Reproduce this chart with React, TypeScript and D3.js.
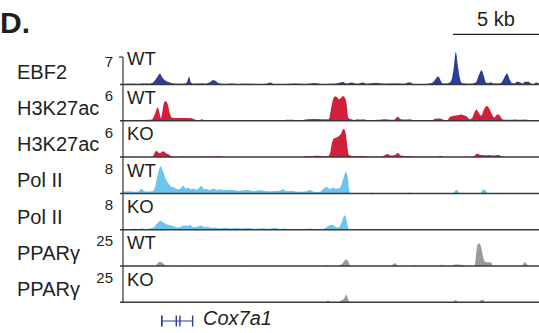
import * as d3 from 'd3';

type Pt = [number, number];

// genomic window (kb) and scale bar
const regionKb = 24.2;
const scaleBarKb = 5;
const scaleBarLabel = '5 kb';
const panelLabel = 'D.';

const trackLabels = ['EBF2', 'H3K27ac', 'H3K27ac', 'Pol II', 'Pol II', 'PPARγ', 'PPARγ'];
const conditions = ['WT', 'WT', 'KO', 'WT', 'KO', 'WT', 'KO'];
const yMax = [7, 6, 6, 8, 8, 25, 25];
const trackColors = ['#2c3d96', '#d21f3c', '#d21f3c', '#6cc5ee', '#6cc5ee', '#9a9a9a', '#9a9a9a'];

// signal tracks: [position kb, signal]
const ebf2Wt: Pt[] = [
  [0, 0.1], [0.5, 0.15], [0.8, 0.1], [1.2, 0.2], [1.5, 0.15], [1.69, 0.3], [1.86, 0.9], [2.03, 1.8],
  [2.15, 2.35], [2.27, 1.6], [2.44, 0.9], [2.73, 0.45], [3.0, 0.2], [3.3, 0.15], [3.6, 0.2], [3.72, 0.5],
  [3.84, 1.65], [3.95, 0.4], [4.1, 0.15], [4.5, 0.2], [4.8, 0.15], [4.94, 0.3], [5.1, 0.6], [5.23, 0.95],
  [5.45, 0.6], [5.58, 0.25], [5.9, 0.1], [6.3, 0.2], [6.7, 0.1], [7.2, 0.15], [7.8, 0.1], [8.3, 0.15],
  [8.55, 0.45], [8.8, 0.1], [9.4, 0.1], [10.0, 0.2], [10.6, 0.1], [11.16, 0.3], [11.5, 0.1], [12.0, 0.15],
  [12.4, 0.2], [12.79, 0.55], [13.0, 0.2], [13.3, 0.45], [13.6, 0.15], [13.95, 0.45], [14.2, 0.15],
  [14.7, 0.3], [15.2, 0.15], [15.8, 0.2], [16.3, 0.15], [16.69, 0.5], [16.9, 0.1], [17.5, 0.1],
  [17.97, 0.3], [18.15, 1.0], [18.33, 1.7], [18.6, 0.2], [18.84, 0.2], [19.01, 0.4], [19.13, 1.2],
  [19.24, 3.5], [19.36, 6.9], [19.48, 4.0], [19.59, 1.5], [19.71, 0.3], [19.88, 0.2], [20.17, 0.15],
  [20.52, 0.4], [20.7, 2.0], [20.86, 3.0], [20.99, 1.8], [21.1, 0.5], [21.22, 0.3], [21.43, 0.45],
  [21.57, 0.2], [21.86, 0.2], [22.04, 0.5], [22.21, 1.7], [22.34, 2.35], [22.5, 1.0], [22.62, 0.3],
  [22.79, 0.2], [22.9, 0.6], [23.08, 0.5], [23.26, 0.2], [23.37, 0.6], [23.6, 0.6], [23.72, 0.2],
  [23.89, 0.1], [24.04, 0.45], [24.19, 0.2],
];

const h3k27acWt: Pt[] = [
  [0, 0.05], [0.5, 0.1], [1.0, 0.15], [1.5, 0.2], [1.7, 0.25], [1.75, 0.5], [1.9, 1.6], [2.0, 2.4],
  [2.12, 1.5], [2.2, 0.5], [2.3, 1.8], [2.4, 3.4], [2.5, 3.55], [2.62, 2.8], [2.73, 1.3], [2.85, 0.6],
  [3.0, 0.5], [3.5, 0.5], [4.0, 0.45], [4.2, 0.2], [4.4, 0.15], [4.6, 0.3], [4.7, 0.15], [5.0, 0.1],
  [6.0, 0.1], [7.0, 0.05], [8.0, 0.1], [9.0, 0.05], [9.5, 0.2], [9.9, 0.2], [10.2, 0.05], [10.75, 0.3],
  [11.3, 0.35], [11.75, 0.3], [11.98, 0.3], [12.09, 2.0], [12.21, 3.8], [12.33, 4.4], [12.44, 4.35],
  [12.56, 3.9], [12.67, 4.1], [12.79, 4.5], [12.91, 4.2], [13.03, 2.5], [13.1, 0.6], [13.2, 0.35],
  [13.31, 0.3], [13.43, 0.15], [13.6, 0.3], [13.78, 0.25], [14.01, 0.3], [14.19, 0.1], [14.48, 0.1],
  [14.77, 0.2], [15.06, 0.25], [15.29, 0.3], [15.52, 0.2], [15.76, 0.2], [15.99, 0.73], [16.16, 0.3],
  [16.4, 0.25], [16.69, 0.3], [16.92, 0.1], [17.09, 0], [18.02, 0], [18.08, 0.3], [18.31, 0.4],
  [18.55, 0.35], [18.72, 0.1], [18.9, 0.2], [19.01, 0.7], [19.24, 0.9], [19.48, 1.0], [19.65, 1.16],
  [19.82, 1.0], [20.0, 0.8], [20.17, 0.3], [20.29, 0.4], [20.44, 1.5], [20.57, 2.07], [20.7, 1.4],
  [20.85, 0.9], [20.99, 2.0], [21.18, 2.67], [21.34, 2.0], [21.45, 1.3], [21.6, 0.6], [21.69, 0.9],
  [21.82, 1.2], [21.95, 0.8], [22.09, 0.25], [22.5, 0.2], [22.79, 0.25], [23.08, 0.2], [23.37, 0.25],
  [23.66, 0.1], [23.84, 0], [24.19, 0],
];

const h3k27acKo: Pt[] = [
  [0, 0], [1.7, 0], [1.75, 0.2], [1.86, 0.9], [1.95, 1.15], [2.06, 0.8], [2.15, 0.7], [2.3, 1.0],
  [2.38, 1.0], [2.5, 0.7], [2.73, 0.35], [2.9, 0.1], [3.3, 0.05], [3.43, 0.2], [3.55, 0.05], [4.5, 0.05],
  [4.65, 0.2], [4.8, 0.05], [5.7, 0.15], [5.9, 0], [10.5, 0], [10.6, 0.2], [10.9, 0.15], [11.2, 0.25],
  [11.5, 0.2], [11.9, 0.15], [12.03, 0.5], [12.15, 2.5], [12.27, 3.4], [12.4, 3.5], [12.5, 3.7],
  [12.62, 4.0], [12.7, 4.4], [12.82, 5.1], [12.9, 4.9], [12.97, 4.0], [13.05, 2.0], [13.12, 0.5],
  [13.2, 0.3], [13.5, 0.2], [13.8, 0.2], [14.1, 0.15], [14.2, 0.05], [15.0, 0.05], [15.2, 0.3],
  [15.4, 0.55], [15.55, 0.3], [15.8, 0.35], [15.99, 0.73], [16.15, 0.3], [16.4, 0.2], [16.7, 0.15],
  [16.9, 0.05], [18.3, 0.05], [18.4, 0.2], [18.55, 0.15], [18.65, 0], [19.15, 0], [19.2, 0.15],
  [19.3, 0], [20.4, 0.1], [20.5, 0.45], [20.62, 0.6], [20.75, 0.45], [20.9, 0.4], [21.1, 0.35],
  [21.3, 0.4], [21.5, 0.3], [21.7, 0.35], [21.85, 0.4], [22.05, 0.1], [22.1, 0], [24.19, 0],
];

const polIIWt: Pt[] = [
  [0, 0.4], [0.3, 0.5], [0.6, 0.4], [0.9, 0.45], [1.08, 1.1], [1.25, 0.5], [1.5, 0.45], [1.75, 0.6],
  [1.86, 1.5], [1.96, 3.4], [2.1, 5.8], [2.2, 6.6], [2.33, 5.3], [2.5, 3.4], [2.62, 2.6], [2.82, 1.6],
  [3.02, 1.4], [3.2, 1.0], [3.35, 1.2], [3.49, 1.9], [3.65, 1.2], [3.78, 1.4], [3.95, 1.0], [4.07, 1.2],
  [4.3, 0.9], [4.55, 1.8], [4.75, 1.0], [4.86, 1.15], [5.05, 0.8], [5.25, 1.1], [5.5, 0.8], [5.64, 1.0],
  [6.0, 0.8], [6.4, 0.85], [6.8, 0.65], [7.2, 0.8], [7.6, 0.6], [7.97, 0.75], [8.4, 0.55], [8.84, 0.6],
  [9.1, 0.65], [9.3, 1.0], [9.5, 0.55], [9.9, 0.6], [10.2, 0.4], [10.6, 0.45], [10.87, 0.8], [11.1, 0.4],
  [11.4, 0.35], [11.74, 1.4], [11.85, 1.6], [12.03, 1.0], [12.21, 1.45], [12.4, 1.1], [12.62, 1.3],
  [12.67, 1.6], [12.83, 3.8], [12.97, 5.2], [13.08, 3.8], [13.15, 1.0], [13.22, 0.1], [13.3, 0],
  [14.45, 0], [14.53, 0.25], [14.6, 0], [16.6, 0], [16.69, 0.25], [16.8, 0], [19.2, 0], [19.3, 0.5],
  [19.4, 0.8], [19.5, 0.5], [19.6, 0], [20.8, 0], [20.9, 0.8], [21.0, 0.95], [21.12, 0.6], [21.2, 0],
  [21.85, 0], [21.9, 0.25], [21.95, 0], [24.19, 0],
];

const polIIKo: Pt[] = [
  [0, 0.1], [0.3, 0], [0.7, 0.3], [0.9, 0.1], [1.1, 0.35], [1.3, 0.1], [1.6, 0.35], [1.8, 0.6],
  [1.92, 1.2], [2.06, 1.8], [2.15, 2.2], [2.3, 1.9], [2.4, 1.6], [2.5, 1.4], [2.62, 1.2], [2.8, 1.0],
  [3.0, 0.8], [3.2, 0.55], [3.4, 0.8], [3.6, 1.0], [3.78, 0.9], [3.9, 1.15], [4.1, 0.6], [4.3, 0.7],
  [4.55, 1.0], [4.75, 0.6], [4.9, 0.75], [5.1, 0.45], [5.35, 0.55], [5.6, 0.3], [5.9, 0.45], [6.2, 0.3],
  [6.5, 0.4], [6.9, 0.3], [7.3, 0.4], [7.7, 0.2], [8.1, 0.35], [8.5, 0.2], [8.84, 0.45], [9.1, 0.2],
  [9.4, 0.3], [9.6, 0.1], [10.0, 0.2], [10.4, 0.1], [10.9, 0.3], [11.1, 0.1], [11.5, 0.1], [11.8, 0.5],
  [11.95, 0.9], [12.15, 1.2], [12.3, 0.9], [12.42, 0.6], [12.5, 0.5], [12.62, 0.9], [12.7, 1.6],
  [12.82, 3.0], [12.9, 3.5], [12.97, 3.0], [13.06, 1.2], [13.12, 0.1], [13.2, 0], [20.7, 0],
  [20.76, 0.25], [20.85, 0], [23.3, 0], [23.37, 0.25], [23.45, 0], [24.19, 0],
];

const ppargWt: Pt[] = [
  [0, 0], [1.8, 0], [1.92, 0.8], [2.05, 2.5], [2.15, 3.3], [2.27, 2.5], [2.4, 1.2], [2.5, 0.3],
  [2.6, 0], [3.0, 0], [3.1, 0.4], [3.3, 0.4], [3.4, 0], [4.0, 0], [4.1, 0.4], [4.3, 0.4], [4.4, 0],
  [5.6, 0], [5.7, 0.4], [5.85, 0.4], [5.95, 0], [6.9, 0], [7.0, 0.4], [7.15, 0.4], [7.25, 0],
  [8.6, 0], [8.7, 0.4], [8.85, 0.4], [8.95, 0], [11.7, 0], [11.76, 0.8], [11.84, 0.8], [11.9, 0],
  [12.5, 0], [12.6, 1.0], [12.7, 1.2], [12.8, 2.5], [12.92, 4.5], [13.02, 5.0], [13.1, 3.5],
  [13.2, 0.8], [13.3, 0], [14.1, 0], [14.19, 0.8], [14.28, 0], [15.6, 0], [15.7, 1.2], [15.81, 2.0],
  [15.92, 1.2], [16.0, 0], [16.8, 0], [16.86, 0.6], [17.0, 0.6], [17.05, 0], [18.4, 0], [18.5, 1.0],
  [18.6, 0.8], [18.65, 0], [19.2, 0], [19.24, 1.0], [19.5, 1.2], [19.8, 0.8], [19.88, 0],
  [20.4, 0], [20.47, 1.0], [20.55, 10], [20.64, 16.5], [20.72, 17.2], [20.82, 15], [20.9, 10],
  [20.99, 5], [21.1, 3], [21.3, 2.8], [21.45, 2], [21.5, 0], [23.2, 0], [23.3, 2.0], [23.37, 2.8],
  [23.48, 1.5], [23.6, 0], [24.19, 0],
];

const ppargKo: Pt[] = [
  [0, 0], [11.0, 0], [11.07, 0.6], [11.15, 0], [11.8, 0], [11.87, 1.2], [11.97, 1.2], [12.05, 0],
  [12.6, 0], [12.7, 1.5], [12.85, 2.5], [12.92, 4.5], [12.98, 6.0], [13.05, 4.0], [13.12, 1.5],
  [13.2, 0], [14.15, 0], [14.19, 0.5], [14.25, 0], [15.6, 0], [15.64, 0.7], [15.72, 0], [19.2, 0],
  [19.3, 1.5], [19.42, 1.2], [19.5, 0], [20.75, 0], [20.82, 1.8], [20.9, 2.0], [21.0, 1.2], [21.1, 0],
  [24.19, 0],
];

const signals = [ebf2Wt, h3k27acWt, h3k27acKo, polIIWt, polIIKo, ppargWt, ppargKo];

// gene model (kb)
const geneName = 'Cox7a1';
const geneSpanKb: [number, number] = [2.21, 4.07];
const geneExonsKb: [number, number][] = [[2.21, 2.31], [3.06, 3.12], [3.27, 3.33], [4.01, 4.07]];

const W = 539;
const H = 333;
const font = 'Liberation Sans, Arial, Helvetica, sans-serif';
const ink = '#231f20';

export default function App() {
  const left = 123;
  const firstBase = 84.5;
  const step = 36.3;
  const trackH = 33;

  const x = d3.scaleLinear().domain([0, regionKb]).range([left, W]);

  const tracks = signals.map((data, i) => {
    const base = firstBase + i * step;
    const y = d3.scaleLinear().domain([0, yMax[i]]).range([base, base - trackH]);
    const area = d3
      .area<Pt>()
      .x((d) => x(d[0]))
      .y0(base)
      .y1((d) => y(d[1]))
      .curve(d3.curveMonotoneX);
    return { data, base, area, i };
  });

  const lastBase = firstBase + (signals.length - 1) * step;
  const ebfTop = firstBase - 27.5;
  const geneY = 321;

  return (
    <svg
      width={W}
      height={H}
      style={{ position: 'absolute', left: 0, top: 0, background: '#fff' }}
      fontFamily={font}
    >
      <text x={0} y={32.7} fontSize={30} fontWeight="bold" fill={ink}>
        {panelLabel}
      </text>

      {/* scale bar */}
      <text x={(x(regionKb - scaleBarKb) + x(regionKb)) / 2} y={26} fontSize={20} textAnchor="middle" fill={ink}>
        {scaleBarLabel}
      </text>
      <line x1={x(regionKb - scaleBarKb)} x2={x(regionKb)} y1={34.3} y2={34.3} stroke={ink} strokeWidth={1.3} />

      {tracks.map((t) => (
        <path key={'a' + t.i} d={t.area(t.data) ?? ''} fill={trackColors[t.i]} />
      ))}

      {tracks.map((t) => (
        <line key={'b' + t.i} x1={left - 3} x2={W} y1={t.base} y2={t.base} stroke="#3a3a3a" strokeWidth={1.5} />
      ))}

      {/* axis */}
      <line x1={left} x2={left} y1={ebfTop} y2={lastBase} stroke="#333" strokeWidth={1.2} />
      <line x1={left - 4} x2={left} y1={ebfTop} y2={ebfTop} stroke="#333" strokeWidth={1.2} />

      {tracks.map((t) => {
        const top = t.i === 0 ? ebfTop : t.base - step;
        return (
          <g key={'l' + t.i} fill={ink}>
            <text x={17} y={t.base - 6} fontSize={20}>
              {trackLabels[t.i]}
            </text>
            <text x={113} y={t.i === 0 ? 66.5 : top + 16.7} fontSize={15} textAnchor="end">
              {yMax[t.i]}
            </text>
            <text x={127} y={t.i === 0 ? 65 : top + 19.5} fontSize={18.5}>
              {conditions[t.i]}
            </text>
          </g>
        );
      })}

      {/* gene model */}
      <g stroke="#2c3d96" fill="#2c3d96">
        <line x1={x(geneSpanKb[0])} x2={x(geneSpanKb[1])} y1={geneY} y2={geneY} strokeWidth={1.2} />
        {geneExonsKb.map((e, k) => (
          <rect
            key={k}
            x={x(e[0])}
            width={Math.max(1.4, x(e[1]) - x(e[0]))}
            y={geneY - 5.5}
            height={11}
            strokeWidth={0}
          />
        ))}
      </g>
      <text x={203} y={325} fontSize={20} fontStyle="italic" fill={ink}>
        {geneName}
      </text>
    </svg>
  );
}
